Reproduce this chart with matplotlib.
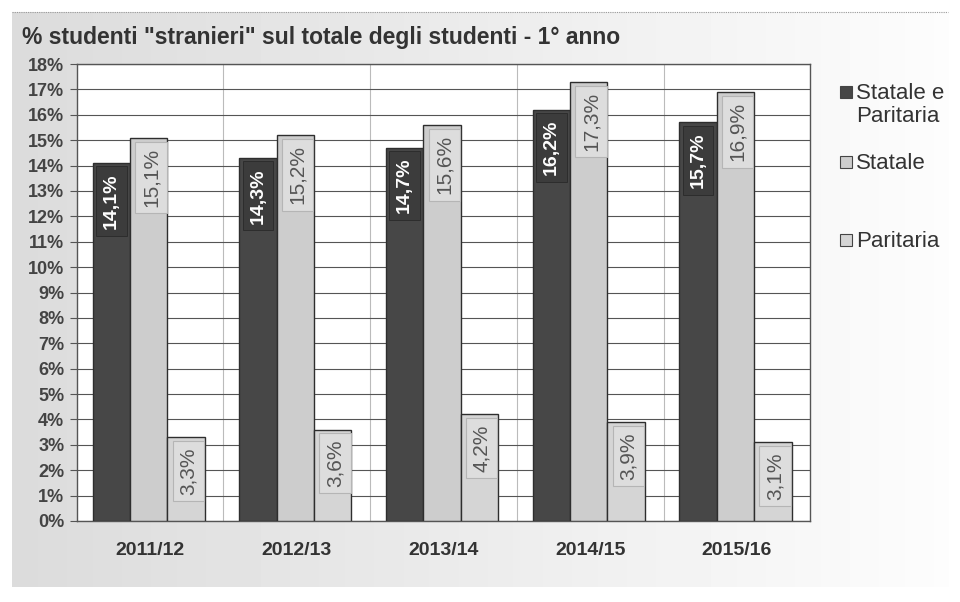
import numpy as np
import matplotlib.pyplot as plt
from matplotlib.patches import Rectangle

plt.rcParams['font.family'] = ['Liberation Sans', 'DejaVu Sans']

anni = ["2011/12", "2012/13", "2013/14", "2014/15", "2015/16"]
serie = ["Statale e\nParitaria", "Statale", "Paritaria"]
stat_par = [14.1, 14.3, 14.7, 16.2, 15.7]
statale = [15.1, 15.2, 15.6, 17.3, 16.9]
paritaria = [3.3, 3.6, 4.2, 3.9, 3.1]

valori = [stat_par, statale, paritaria]
colori = ["#474747", "#cdcdcd", "#d5d5d5"]

fig = plt.figure(figsize=(9.6, 6.02), dpi=100)

# sfondo grigio sfumato del grafico
bg = fig.add_axes([0.012, 0.025, 0.976, 0.955], zorder=-5)
grad = np.linspace(0.86, 0.99, 256).reshape(1, -1)
bg.imshow(grad, aspect="auto", cmap="gray", vmin=0, vmax=1, extent=[0, 1, 0, 1])
bg.set_axis_off()
fig.add_artist(plt.Line2D([0.012, 0.988], [0.98, 0.98], color="#999999",
                          lw=0.8, ls=(0, (1, 1))))

ax = fig.add_axes([0.080, 0.1346, 0.764, 0.759])
ax.set_facecolor("white")

x = np.arange(len(anni))
w = 0.255
off = [-w - 0.01, -0.01, w - 0.01]

for i in range(3):
    ax.bar(x + off[i], valori[i], w, color=colori[i], edgecolor="#2e2e2e",
           linewidth=1.0, zorder=3)

for i in range(3):
    for xi, v in zip(x + off[i], valori[i]):
        s = ("%.1f%%" % v).replace(".", ",")
        if i == 0:
            ax.text(xi, v - 0.4, s, rotation=90, ha="center", va="top",
                    color="white", fontsize=14, fontweight="bold", zorder=5,
                    bbox=dict(boxstyle="square,pad=0.35", fc="#3c3c3c",
                              ec="#2a2a2a", lw=0.6))
        else:
            ax.text(xi + 0.015, v - 0.4, s, rotation=90, ha="center", va="top",
                    color="#555555", fontsize=15, zorder=5,
                    bbox=dict(boxstyle="square,pad=0.3", fc="#dddddd",
                              ec="#b5b5b5", lw=0.8))

ax.set_xlim(-0.5, len(anni) - 0.5)
ax.set_ylim(0, 18)
ax.set_yticks(np.arange(0, 19, 1))
ax.set_yticklabels(["%d%%" % v for v in range(19)], fontsize=13,
                   fontweight="bold", color="#444444")
ax.set_xticks(x)
ax.set_xticklabels(anni, fontsize=14, fontweight="bold", color="#333333")
ax.set_xticks(np.arange(0.5, len(anni) - 0.5, 1), minor=True)
ax.tick_params(axis="x", which="both", length=0, pad=15)
ax.tick_params(axis="y", length=5, width=0.8, color="#555555", pad=4)

ax.grid(axis="y", which="major", color="#555555", lw=0.8, zorder=0)
ax.grid(axis="x", which="minor", color="#bbbbbb", lw=0.8, zorder=0)
for sp in ax.spines.values():
    sp.set_color("#555555")
    sp.set_linewidth(1.0)
ax.set_axisbelow(True)

fig.text(0.023, 0.938, '% studenti "stranieri" sul totale degli studenti - 1° anno',
         fontsize=16.5, fontweight="bold", color="#333333", va="center")

# legenda
leg_y = [0.847, 0.731, 0.602]
for nome, col, yy in zip(serie, colori, leg_y):
    fig.add_artist(Rectangle((0.875, yy - 0.01), 0.0125, 0.02, transform=fig.transFigure,
                             fc=col, ec="#444444", lw=0.8))
    fig.text(0.892, yy + 0.015, nome, fontsize=16, color="#333333", va="top",
             linespacing=1.15)

fig.savefig("out.png", dpi=100)
